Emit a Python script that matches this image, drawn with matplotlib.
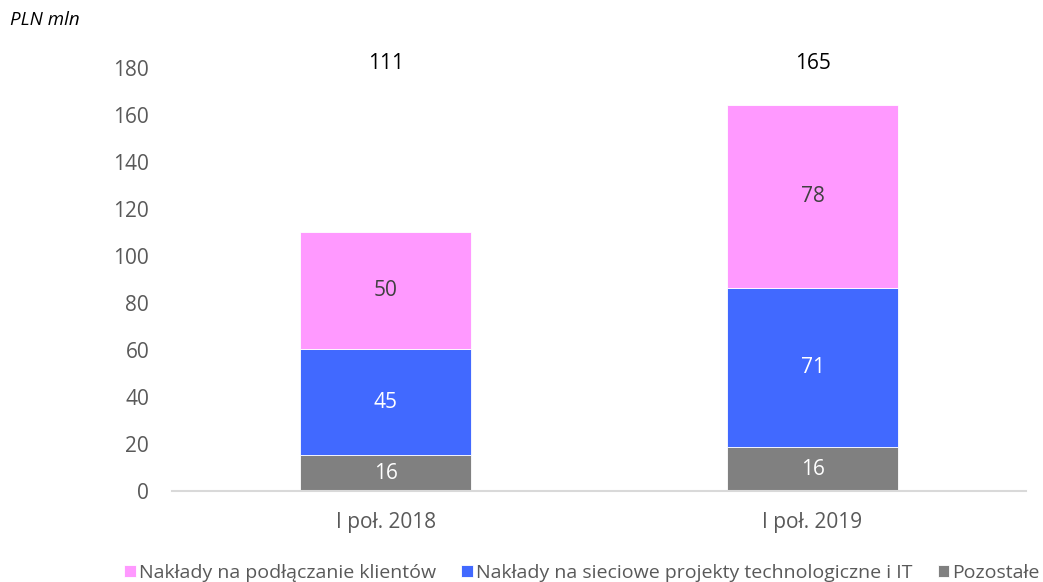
import matplotlib
matplotlib.use("Agg")
import matplotlib.pyplot as plt
import numpy as np

plt.rcParams['font.family'] = ['Open Sans', 'DejaVu Sans']

categories = ["I poł. 2018", "I poł. 2019"]
series_names = ["Nakłady na podłączanie klientów",
                "Nakłady na sieciowe projekty technologiczne i IT",
                "Pozostałe"]
# drawn heights
other_vals = [15.5, 18.7]
network_vals = [45.0, 67.7]
clients_vals = [50.0, 78.0]
# printed labels
other_labels = ["16", "16"]
network_labels = ["45", "71"]
clients_labels = ["50", "78"]
total_labels = ["111", "165"]
yticks = [0, 20, 40, 60, 80, 100, 120, 140, 160, 180]

c_clients = "#FF99FF"
c_network = "#4169FF"
c_other = "#808080"

fig = plt.figure(figsize=(10.43, 5.82), dpi=100)
ax = fig.add_axes([0.165, 0.1555, 0.8187, 0.7277])

x = np.arange(len(categories)) + 0.5
w = 0.4
b1 = ax.bar(x, other_vals, w, color=c_other, edgecolor="white", linewidth=0.6, label=series_names[2])
b2 = ax.bar(x, network_vals, w, bottom=other_vals, color=c_network, edgecolor="white", linewidth=0.6, label=series_names[1])
bottom3 = np.array(other_vals) + np.array(network_vals)
b3 = ax.bar(x, clients_vals, w, bottom=bottom3, color=c_clients, edgecolor="white", linewidth=0.6, label=series_names[0])

fs = 15
for i in range(len(categories)):
    ax.text(x[i], other_vals[i] / 2, other_labels[i], ha="center", va="center", color="white", fontsize=fs)
    ax.text(x[i], other_vals[i] + network_vals[i] / 2, network_labels[i], ha="center", va="center", color="white", fontsize=fs)
    ax.text(x[i], bottom3[i] + clients_vals[i] / 2, clients_labels[i], ha="center", va="center", color="#404040", fontsize=fs)
    ax.text(x[i], 181.8, total_labels[i], ha="center", va="center", color="black", fontsize=fs, clip_on=False)

ax.set_xlim(0, 2)
ax.set_ylim(0, 180)
ax.set_yticks(yticks)
ax.set_xticks(x)
ax.set_xticklabels(categories)
ax.tick_params(axis="both", length=0, labelsize=fs, colors="#595959")
ax.tick_params(axis="y", pad=16.5)
ax.tick_params(axis="x", pad=15)
for s in ["top", "right", "left"]:
    ax.spines[s].set_visible(False)
ax.spines["bottom"].set_color("#D9D9D9")
ax.spines["bottom"].set_linewidth(1.5)

fig.text(0.01, 0.966, "PLN mln", fontsize=13.5, style="italic", color="black", ha="left", va="center")

handles = [b3, b2, b1]
leg = fig.legend(handles, series_names, loc="lower center", bbox_to_anchor=(0.558, -0.03), ncol=3,
                 frameon=False, fontsize=14, handlelength=0.6, handleheight=0.6, handletextpad=0.15,
                 columnspacing=1.3, labelcolor="#595959")

fig.savefig("out.png", dpi=100)
